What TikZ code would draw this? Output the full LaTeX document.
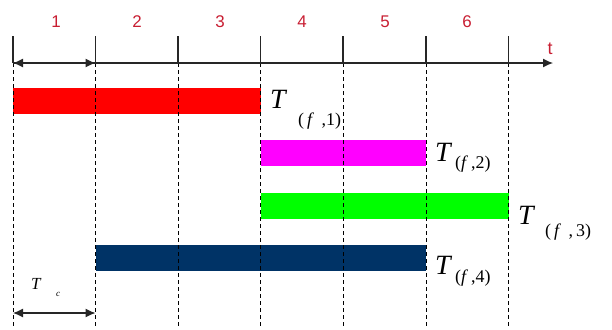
\documentclass[tikz,border=0pt]{standalone}
\usepackage{fontspec}
\setmainfont{Liberation Serif}
\newfontfamily\arialfont{Liberation Sans}
\usetikzlibrary{arrows.meta}
\definecolor{numred}{RGB}{200,30,50}
\definecolor{barred}{RGB}{255,0,0}
\definecolor{barmag}{RGB}{255,0,255}
\definecolor{bargreen}{RGB}{0,255,0}
\definecolor{barnavy}{RGB}{0,51,102}
\tikzset{
  tick/.style={line width=1.2bp,black!85},
  gridline/.style={line width=1bp,black,dash pattern=on 4bp off 3bp},
  num/.style={font=\arialfont\fontsize{17}{17}\selectfont,text=numred,inner sep=0pt},
  tlabel/.style={inner sep=0pt,anchor=base west,font=\fontsize{28}{28}\selectfont\itshape},
  sublabel/.style={inner sep=0pt,anchor=base west,font=\fontsize{18}{18}\selectfont},
  tip/.style={-{Latex[length=10bp,width=9bp]}},
  dtip/.style={{Latex[length=10bp,width=9bp]}-{Latex[length=10bp,width=9bp]}},
}
\begin{document}
\begin{tikzpicture}[x=1bp,y=-1bp]
\useasboundingbox (0,0) rectangle (612,329);
% bars
\fill[barred] (13,88) rectangle (260.5,114);
\fill[barmag] (260.5,140) rectangle (426,166);
\fill[bargreen] (260.5,193) rectangle (508.5,219);
\fill[barnavy] (95.5,245) rectangle (426,271);
% grid
\foreach \x/\n in {13/g0,95.5/g1,178/g2,260.5/g3,343/g4,426/g5,508.5/g6}{
  \coordinate (\n-top) at (\x,36);
  \coordinate (\n-ax) at (\x,63);
  \coordinate (\n-bot) at (\x,329);
  \draw[tick] (\n-top) -- (\n-ax);
  \draw[gridline] (\n-ax) -- (\n-bot);
}
% axis
\coordinate (axend) at (553,63);
\draw[tick,tip] (g0-ax) -- (axend);
\draw[tick,dtip] (g0-ax) -- (g1-ax);
\node[font=\arialfont\fontsize{18}{18}\selectfont,text=numred,inner sep=0pt] (tlab) at (550,49) {t};
% numbers
\foreach \x/\k in {56/1,137/2,220/3,302/4,385/5,467/6}{
  \node[num] (n\k) at (\x,22) {\k};
}
% labels
\node[tlabel] (T1) at (270,108) {T};
\node[sublabel] (s1) at (298,125) {(\,\textit{f}\, ,1)};
\node[tlabel] (T2) at (435,161) {T};
\node[sublabel] (s2) at (455,168) {(\textit{f}\,,2)};
\node[tlabel] (T3) at (518,224) {T};
\node[sublabel] (s3) at (545,236) {(\,\textit{f}\, ,\,3)};
\node[tlabel] (T4) at (435,274) {T};
\node[sublabel] (s4) at (455,282) {(\textit{f}\,,4)};
% Tc
\node[inner sep=0pt,anchor=base west,font=\fontsize{17}{17}\selectfont\itshape] (Tc) at (31,289) {T};
\node[inner sep=0pt,anchor=base west,font=\fontsize{9}{9}\selectfont\itshape] (Tcs) at (56,296) {c};
\coordinate (a1) at (13,313);
\coordinate (a2) at (95.5,313);
\draw[tick,dtip] (a1) -- (a2);
\end{tikzpicture}
\end{document}
